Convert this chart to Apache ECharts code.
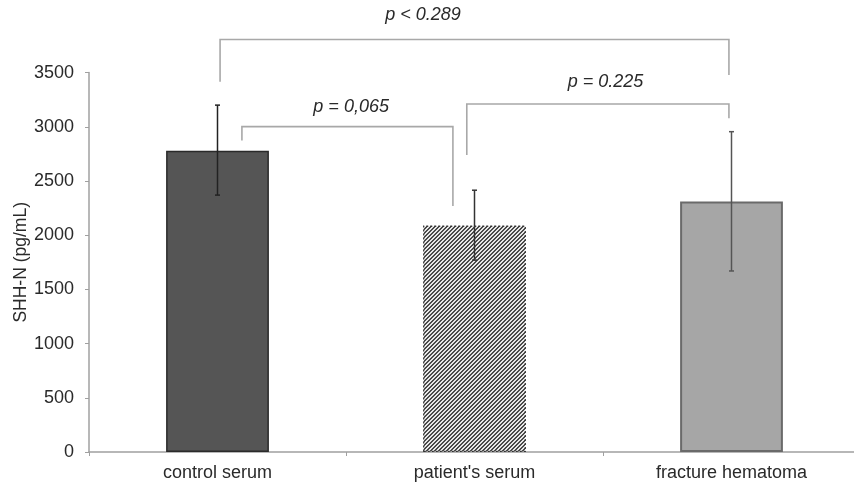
<!DOCTYPE html>
<html>
<head>
<meta charset="utf-8">
<script src="https://cdn.jsdelivr.net/npm/echarts@6/dist/echarts.min.js"></script>
<style>
html,body{margin:0;padding:0;background:#fff;overflow:hidden;width:854px;height:484px;}
#chart{width:870px;height:484px;}
</style>
</head>
<body>
<div id="chart"></div>
<script>
// ---- data ----
var categories = ["control serum", "patient's serum", "fracture hematoma"];
var means = [2780, 2090, 2310];
var errHigh = [3200, 2415, 2955];
var errLow = [2370, 1770, 1670];
var yTicks = [0, 500, 1000, 1500, 2000, 2500, 3000, 3500];

// brackets: [fromCat, toCat, yTop, yFromEnd, yToEnd]
var bracketFrom = [0, 0, 1];
var bracketTo = [2, 1, 2];
var bracketTop = [3805, 3002, 3210];
var bracketFromEnd = [3415, 2873, 2739];
var bracketToEnd = [3477, 2269, 3080];
// p-value labels
var pTexts = ["p < 0.289", "p = 0,065", "p = 0.225"];
var pTextX = [0.80, 0.52, 1.51];
var pTextY = [4030, 3182, 3415];

// offsets of bracket ends relative to category centre (fraction of band)
var fromOff = [0.01, 0.095, -0.03];
var toOff = [-0.01, -0.084, -0.01];

var FONT = "'Liberation Sans', Arial, sans-serif";

function makeHatch() {
  var c = document.createElement('canvas');
  c.width = 4; c.height = 4;
  var ctx = c.getContext('2d');
  for (var x = 0; x < 4; x++) {
    for (var y = 0; y < 4; y++) {
      var k = (x + y) % 4;
      ctx.fillStyle = (k === 0 || k === 1) ? '#4a4a4a' : '#e8e8e8';
      ctx.fillRect(x, y, 1, 1);
    }
  }
  return c;
}

var barStyles = [
  {color: '#555555', borderColor: '#2a2a2a', borderWidth: 1.5},
  {color: {image: makeHatch(), repeat: 'repeat'}, borderColor: '#333', borderWidth: 1.2, borderType: [2, 2]},
  {color: '#a6a6a6', borderColor: '#6a6a6a', borderWidth: 2}
];
var errColors = ['#222', '#333', '#555'];

var barData = means.map(function (v, i) {
  return {value: v, itemStyle: barStyles[i]};
});
var errData = means.map(function (v, i) { return [i, errLow[i], errHigh[i]]; });
var bracketData = bracketFrom.map(function (f, i) {
  return [f, bracketTo[i], bracketTop[i], bracketFromEnd[i], bracketToEnd[i], i];
});
var textData = pTexts.map(function (t, i) { return [pTextX[i], pTextY[i], i]; });

var chart = echarts.init(document.getElementById('chart'), null, {renderer: 'canvas', width: 870, height: 484});
chart.setOption({
  animation: false,
  backgroundColor: '#ffffff',
  grid: {left: 89, top: 72.6, width: 771, bottom: 32},
  xAxis: {
    type: 'category',
    data: categories,
    axisLine: {lineStyle: {color: '#a0a0a0', width: 1.5}},
    axisTick: {show: true, length: 4, lineStyle: {color: '#a0a0a0'}},
    axisLabel: {color: '#2a2a2a', fontSize: 18, fontFamily: FONT, margin: 12}
  },
  yAxis: {
    type: 'value',
    min: 0, max: 3500, interval: 500,
    name: 'SHH-N (pg/mL)',
    nameLocation: 'middle',
    nameGap: 59,
    nameMoveOverlap: false,
    nameTextStyle: {color: '#2a2a2a', fontSize: 17.5, fontFamily: FONT},
    axisLine: {show: true, lineStyle: {color: '#a0a0a0', width: 1.5}},
    axisTick: {show: true, length: 4, lineStyle: {color: '#a0a0a0'}},
    splitLine: {show: false},
    axisLabel: {color: '#2a2a2a', fontSize: 18, fontFamily: FONT, margin: 15,
      formatter: function (v) { return yTicks.indexOf(v) >= 0 ? String(v) : ''; }}
  },
  series: [
    {
      type: 'bar',
      data: barData,
      barWidth: '40%'
    },
    {
      type: 'custom',
      data: errData,
      z: 5,
      renderItem: function (params, api) {
        var i = api.value(0);
        var lo = api.coord([i, api.value(1)]);
        var hi = api.coord([i, api.value(2)]);
        var col = errColors[params.dataIndex];
        var cw = 2.5;
        return {
          type: 'group',
          children: [
            {type: 'line', shape: {x1: hi[0], y1: hi[1], x2: lo[0], y2: lo[1]}, style: {stroke: col, lineWidth: 1.5}},
            {type: 'line', shape: {x1: hi[0] - cw, y1: hi[1], x2: hi[0] + cw, y2: hi[1]}, style: {stroke: col, lineWidth: 1.5}},
            {type: 'line', shape: {x1: lo[0] - cw, y1: lo[1], x2: lo[0] + cw, y2: lo[1]}, style: {stroke: col, lineWidth: 1.5}}
          ]
        };
      }
    },
    {
      type: 'custom',
      data: bracketData,
      clip: false,
      z: 4,
      renderItem: function (params, api) {
        var k = params.dataIndex;
        var band = api.size([1, 0])[0];
        var a = api.coord([api.value(0), api.value(2)]);
        var b = api.coord([api.value(1), api.value(2)]);
        var aEnd = api.coord([api.value(0), api.value(3)]);
        var bEnd = api.coord([api.value(1), api.value(4)]);
        var x1 = a[0] + fromOff[k] * band;
        var x2 = b[0] + toOff[k] * band;
        return {
          type: 'polyline',
          shape: {points: [[x1, aEnd[1]], [x1, a[1]], [x2, b[1]], [x2, bEnd[1]]]},
          style: {stroke: '#a8a8a8', lineWidth: 1.6, fill: null}
        };
      }
    },
    {
      type: 'custom',
      data: textData,
      clip: false,
      z: 6,
      renderItem: function (params, api) {
        var p = api.coord([0, api.value(1)]);
        var band = api.size([1, 0])[0];
        var x = p[0] + api.value(0) * band;
        return {
          type: 'text',
          x: x, y: p[1],
          style: {
            text: pTexts[params.dataIndex],
            fill: '#2a2a2a',
            font: 'italic 18px ' + FONT,
            align: 'center',
            verticalAlign: 'middle'
          }
        };
      }
    }
  ]
});
</script>
</body>
</html>
